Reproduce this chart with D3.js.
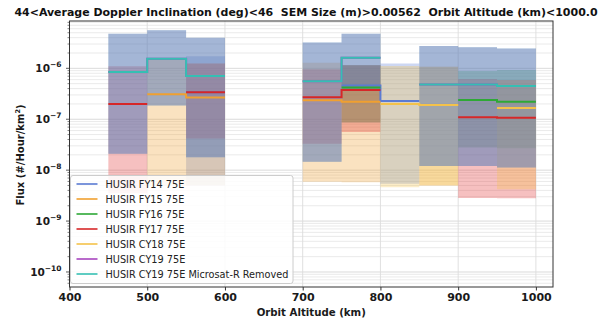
<!DOCTYPE html>
<html>
<head>
<meta charset="utf-8">
<script src="https://cdn.jsdelivr.net/npm/d3@7"></script>
<style>
  body { margin: 0; background: #fff; }
  svg { display: block; font-family: "DejaVu Sans", sans-serif; }
</style>
</head>
<body>
<svg id="chart" width="612" height="320"></svg>
<script>
// Altitude bins (km): each bin starts here and spans binWidthKm
const binStartKm = [450, 500, 550, 700, 750, 800, 850, 900, 950];
const binWidthKm = 50;

const seriesNames = [
  "HUSIR FY14 75E", "HUSIR FY15 75E", "HUSIR FY16 75E", "HUSIR FY17 75E",
  "HUSIR CY18 75E", "HUSIR CY19 75E", "HUSIR CY19 75E Microsat-R Removed"
];

// Flux (#/Hour/km^2) per bin: measured value, lower and upper bound of the range
const fy14Flux = [null, null, 3.4e-7, null, 4.6e-7, 2.28e-7, null, null, null];
const fy14Low  = [null, null, 5.0e-9, null, 8.6e-8, 5.4e-9, null, null, null];
const fy14High = [null, null, 1.72e-6, null, 1.15e-6, 1.25e-6, null, null, null];

const fy15Flux = [null, 3.1e-7, 2.66e-7, 2.36e-7, 2.2e-7, null, 1.9e-7, null, null];
const fy15Low  = [null, 5.0e-9, 5.0e-9, 5.9e-9, 5.8e-9, null, 5.0e-9, null, null];
const fy15High = [null, 1.55e-6, 1.24e-6, 1.29e-6, 1.15e-6, null, 1.07e-6, null, null];

const fy16Flux = [null, null, null, null, 4.2e-7, null, null, 2.38e-7, 2.2e-7];
const fy16Low  = [null, null, null, null, 8.6e-8, null, null, 2.8e-8, 2.7e-8];
const fy16High = [null, null, null, null, 1.15e-6, null, null, 8.9e-7, 9.3e-7];

const fy17Flux = [2.0e-7, null, 3.4e-7, 2.7e-7, 3.76e-7, null, null, 1.09e-7, 1.07e-7];
const fy17Low  = [3.5e-9, null, 4.2e-8, 3.3e-8, 5.6e-8, null, null, 2.85e-9, 2.8e-9];
const fy17High = [1.1e-6, null, 1.24e-6, 9.6e-7, 1.15e-6, null, null, 6.2e-7, 5.9e-7];

const cy18Flux = [null, null, null, null, null, 1.99e-7, 1.9e-7, null, 1.66e-7];
const cy18Low  = [null, null, null, null, null, 4.6e-9, 5.0e-9, null, 4.2e-9];
const cy18High = [null, null, null, null, null, 1.11e-6, 1.07e-6, null, 5.9e-7];

const cy19Flux = [8.5e-7, 1.55e-6, 7.1e-7, 5.6e-7, 1.62e-6, null, 4.8e-7, 4.8e-7, 4.5e-7];
const cy19Low  = [2.1e-8, 1.86e-7, 1.8e-8, 1.46e-8, 3.8e-7, null, 1.2e-8, 1.2e-8, 1.13e-8];
const cy19High = [4.8e-6, 5.6e-6, 4.0e-6, 3.2e-6, 4.8e-6, null, 2.75e-6, 2.6e-6, 2.44e-6];

const cy19mrFlux = [8.5e-7, 1.55e-6, 7.1e-7, 5.6e-7, 1.62e-6, null, 4.8e-7, 4.8e-7, 4.5e-7];
const cy19mrLow  = [2.1e-8, 1.86e-7, 1.8e-8, 1.46e-8, 3.8e-7, null, 1.2e-8, 1.2e-8, 1.13e-8];
const cy19mrHigh = [4.8e-6, 5.6e-6, 4.0e-6, 3.2e-6, 4.8e-6, null, 2.75e-6, 2.6e-6, 2.44e-6];

const xTickValues = [400, 500, 600, 700, 800, 900, 1000];
const yTickExponents = [-10, -9, -8, -7, -6];

const titleText = "44<Average Doppler Inclination (deg)<46  SEM Size (m)>0.00562  Orbit Altitude (km)<1000.0";
const xLabelText = "Orbit Altitude (km)";

// Styling
const lineColors = ["#5b7bd3", "#f0a030", "#2ea836", "#d62728", "#f4c24a", "#a845bf", "#35bfb3"];
const bandColors = ["#5b7bd3", "#f0a030", "#2ea836", "#e03030", "#f4c24a", "#8060b8", "#30b0b8"];
const bandOpacity = [0.3, 0.3, 0.3, 0.3, 0.3, 0.35, 0.35];
const bandLayerOrder = [0, 1, 2, 3, 4, 6, 5];

const series = [
  [fy14Flux, fy14Low, fy14High], [fy15Flux, fy15Low, fy15High],
  [fy16Flux, fy16Low, fy16High], [fy17Flux, fy17Low, fy17High],
  [cy18Flux, cy18Low, cy18High], [cy19Flux, cy19Low, cy19High],
  [cy19mrFlux, cy19mrLow, cy19mrHigh]
].map(([flux, low, high], i) => ({ name: seriesNames[i], flux, low, high, i }));

const svg = d3.select("#chart");
const plot = { left: 69.5, right: 553, top: 21, bottom: 287 };

const x = d3.scaleLinear().domain([400, 1022]).range([plot.left, plot.right]);
const y = d3.scaleLog().domain([5.07e-11, 8.5e-6]).range([plot.bottom, plot.top]);

// Grid: minor horizontal lines, major horizontal and vertical lines
const grid = svg.append("g");
const minorVals = [];
for (let e = -11; e <= -6; e++) {
  for (let m = 2; m <= 9; m++) {
    const v = m * Math.pow(10, e);
    if (v > y.domain()[0] && v < y.domain()[1]) minorVals.push(v);
  }
}
grid.selectAll("line.minor").data(minorVals).join("line")
  .attr("x1", plot.left).attr("x2", plot.right)
  .attr("y1", d => y(d)).attr("y2", d => y(d))
  .attr("stroke", "#e4e4e4").attr("stroke-width", 0.8);
grid.selectAll("line.major").data(yTickExponents).join("line")
  .attr("x1", plot.left).attr("x2", plot.right)
  .attr("y1", d => y(Math.pow(10, d))).attr("y2", d => y(Math.pow(10, d)))
  .attr("stroke", "#d6d6d6").attr("stroke-width", 0.9);
grid.selectAll("line.vert").data(xTickValues).join("line")
  .attr("x1", d => x(d)).attr("x2", d => x(d))
  .attr("y1", plot.top).attr("y2", plot.bottom)
  .attr("stroke", "#dcdcdc").attr("stroke-width", 0.9);

// Step points along bin edges, broken where bins are missing or not adjacent
function stepPoints(s) {
  const pts = [];
  binStartKm.forEach((b, k) => {
    if (k > 0 && binStartKm[k - 1] + binWidthKm !== b) pts.push({ gap: true });
    if (s.flux[k] == null) { pts.push({ gap: true }); return; }
    pts.push({ km: b, v: s.flux[k], lo: s.low[k], hi: s.high[k] });
    pts.push({ km: b + binWidthKm, v: s.flux[k], lo: s.low[k], hi: s.high[k] });
  });
  return pts;
}

const area = d3.area().defined(d => !d.gap)
  .x(d => x(d.km)).y0(d => y(d.lo)).y1(d => y(d.hi));
const line = d3.line().defined(d => !d.gap)
  .x(d => x(d.km)).y(d => y(d.v));

svg.append("clipPath").attr("id", "plotclip").append("rect")
  .attr("x", plot.left).attr("y", plot.top)
  .attr("width", plot.right - plot.left).attr("height", plot.bottom - plot.top);

const marks = svg.append("g").attr("clip-path", "url(#plotclip)");
marks.selectAll("path.band").data(bandLayerOrder.map(k => series[k])).join("path")
  .attr("d", s => area(stepPoints(s)))
  .attr("fill", s => bandColors[s.i]).attr("fill-opacity", s => bandOpacity[s.i])
  .attr("stroke", "none");
marks.selectAll("path.flux").data(series).join("path")
  .attr("d", s => line(stepPoints(s)))
  .attr("fill", "none").attr("stroke", s => lineColors[s.i]).attr("stroke-width", 2);

// Axes frame
svg.append("rect").attr("x", plot.left).attr("y", plot.top)
  .attr("width", plot.right - plot.left).attr("height", plot.bottom - plot.top)
  .attr("fill", "none").attr("stroke", "#333").attr("stroke-width", 1);

// X axis
const xAxis = d3.axisBottom(x).tickValues(xTickValues).tickSize(3.5).tickPadding(3)
  .tickFormat(d3.format("d"));
const gx = svg.append("g").attr("transform", `translate(0,${plot.bottom})`).call(xAxis);
gx.select(".domain").remove();
gx.selectAll(".tick line").attr("stroke", "#333");
gx.selectAll(".tick text").attr("font-size", 11).attr("font-weight", "bold")
  .attr("fill", "#1a1a1a").attr("font-family", "DejaVu Sans");

// Y axis: decade ticks with superscript labels, minor ticks between
const gy = svg.append("g");
gy.selectAll("line.minor").data(minorVals).join("line")
  .attr("x1", plot.left - 2).attr("x2", plot.left)
  .attr("y1", d => y(d)).attr("y2", d => y(d)).attr("stroke", "#333").attr("stroke-width", 0.6);
gy.selectAll("line.major").data(yTickExponents).join("line")
  .attr("x1", plot.left - 3.5).attr("x2", plot.left)
  .attr("y1", d => y(Math.pow(10, d))).attr("y2", d => y(Math.pow(10, d)))
  .attr("stroke", "#333").attr("stroke-width", 0.8);
const yLabels = gy.selectAll("text").data(yTickExponents).join("text")
  .attr("x", plot.left - 8).attr("y", d => y(Math.pow(10, d)) + 4)
  .attr("text-anchor", "end").attr("font-weight", "bold").attr("fill", "#1a1a1a");
yLabels.append("tspan").attr("font-size", 10.5).text("10");
yLabels.append("tspan").attr("font-size", 7.5).attr("dy", -5)
  .text(d => "\u2212" + Math.abs(d));

// Axis titles
svg.append("text")
  .attr("transform", `translate(24,${(plot.top + plot.bottom) / 2 + 1}) rotate(-90)`)
  .attr("text-anchor", "middle").attr("font-size", 10).attr("font-weight", "bold")
  .attr("fill", "#1a1a1a")
  .call(t => {
    t.append("tspan").text("Flux (#/Hour/km");
    t.append("tspan").attr("font-size", 6.5).attr("dy", -4).text("2");
    t.append("tspan").attr("dy", 4).text(")");
  });

svg.append("text").attr("x", (plot.left + plot.right) / 2).attr("y", 316)
  .attr("text-anchor", "middle").attr("font-size", 10.2).attr("font-weight", "bold")
  .attr("fill", "#1a1a1a").text(xLabelText);

// Title, scaled to span the figure width
const title = svg.append("text").attr("x", 306).attr("y", 16)
  .attr("text-anchor", "middle").attr("font-size", 10.5).attr("font-weight", "bold")
  .attr("fill", "#111").style("white-space", "pre").text(titleText);
const tw = title.node().getComputedTextLength();
title.attr("font-size", 10.5 * 584 / tw);

// Legend
const legend = svg.append("g");
legend.append("rect").attr("x", 70.5).attr("y", 175.5).attr("width", 222.5).attr("height", 108)
  .attr("rx", 2.5).attr("fill", "#fff").attr("fill-opacity", 0.85)
  .attr("stroke", "#cccccc").attr("stroke-width", 1);
const rows = legend.selectAll("g.row").data(series).join("g")
  .attr("transform", (s, k) => `translate(0,${184 + k * 15})`);
rows.append("line").attr("x1", 76.5).attr("x2", 97.5)
  .attr("stroke", s => lineColors[s.i]).attr("stroke-width", 1.6);
const legendTexts = rows.append("text").attr("x", 105.5).attr("y", 3.6)
  .attr("font-size", 9.5).attr("fill", "#222").text(s => s.name);
const longest = d3.max(legendTexts.nodes(), n => n.getComputedTextLength());
legendTexts.attr("font-size", 9.5 * 183 / longest);
</script>
</body>
</html>
